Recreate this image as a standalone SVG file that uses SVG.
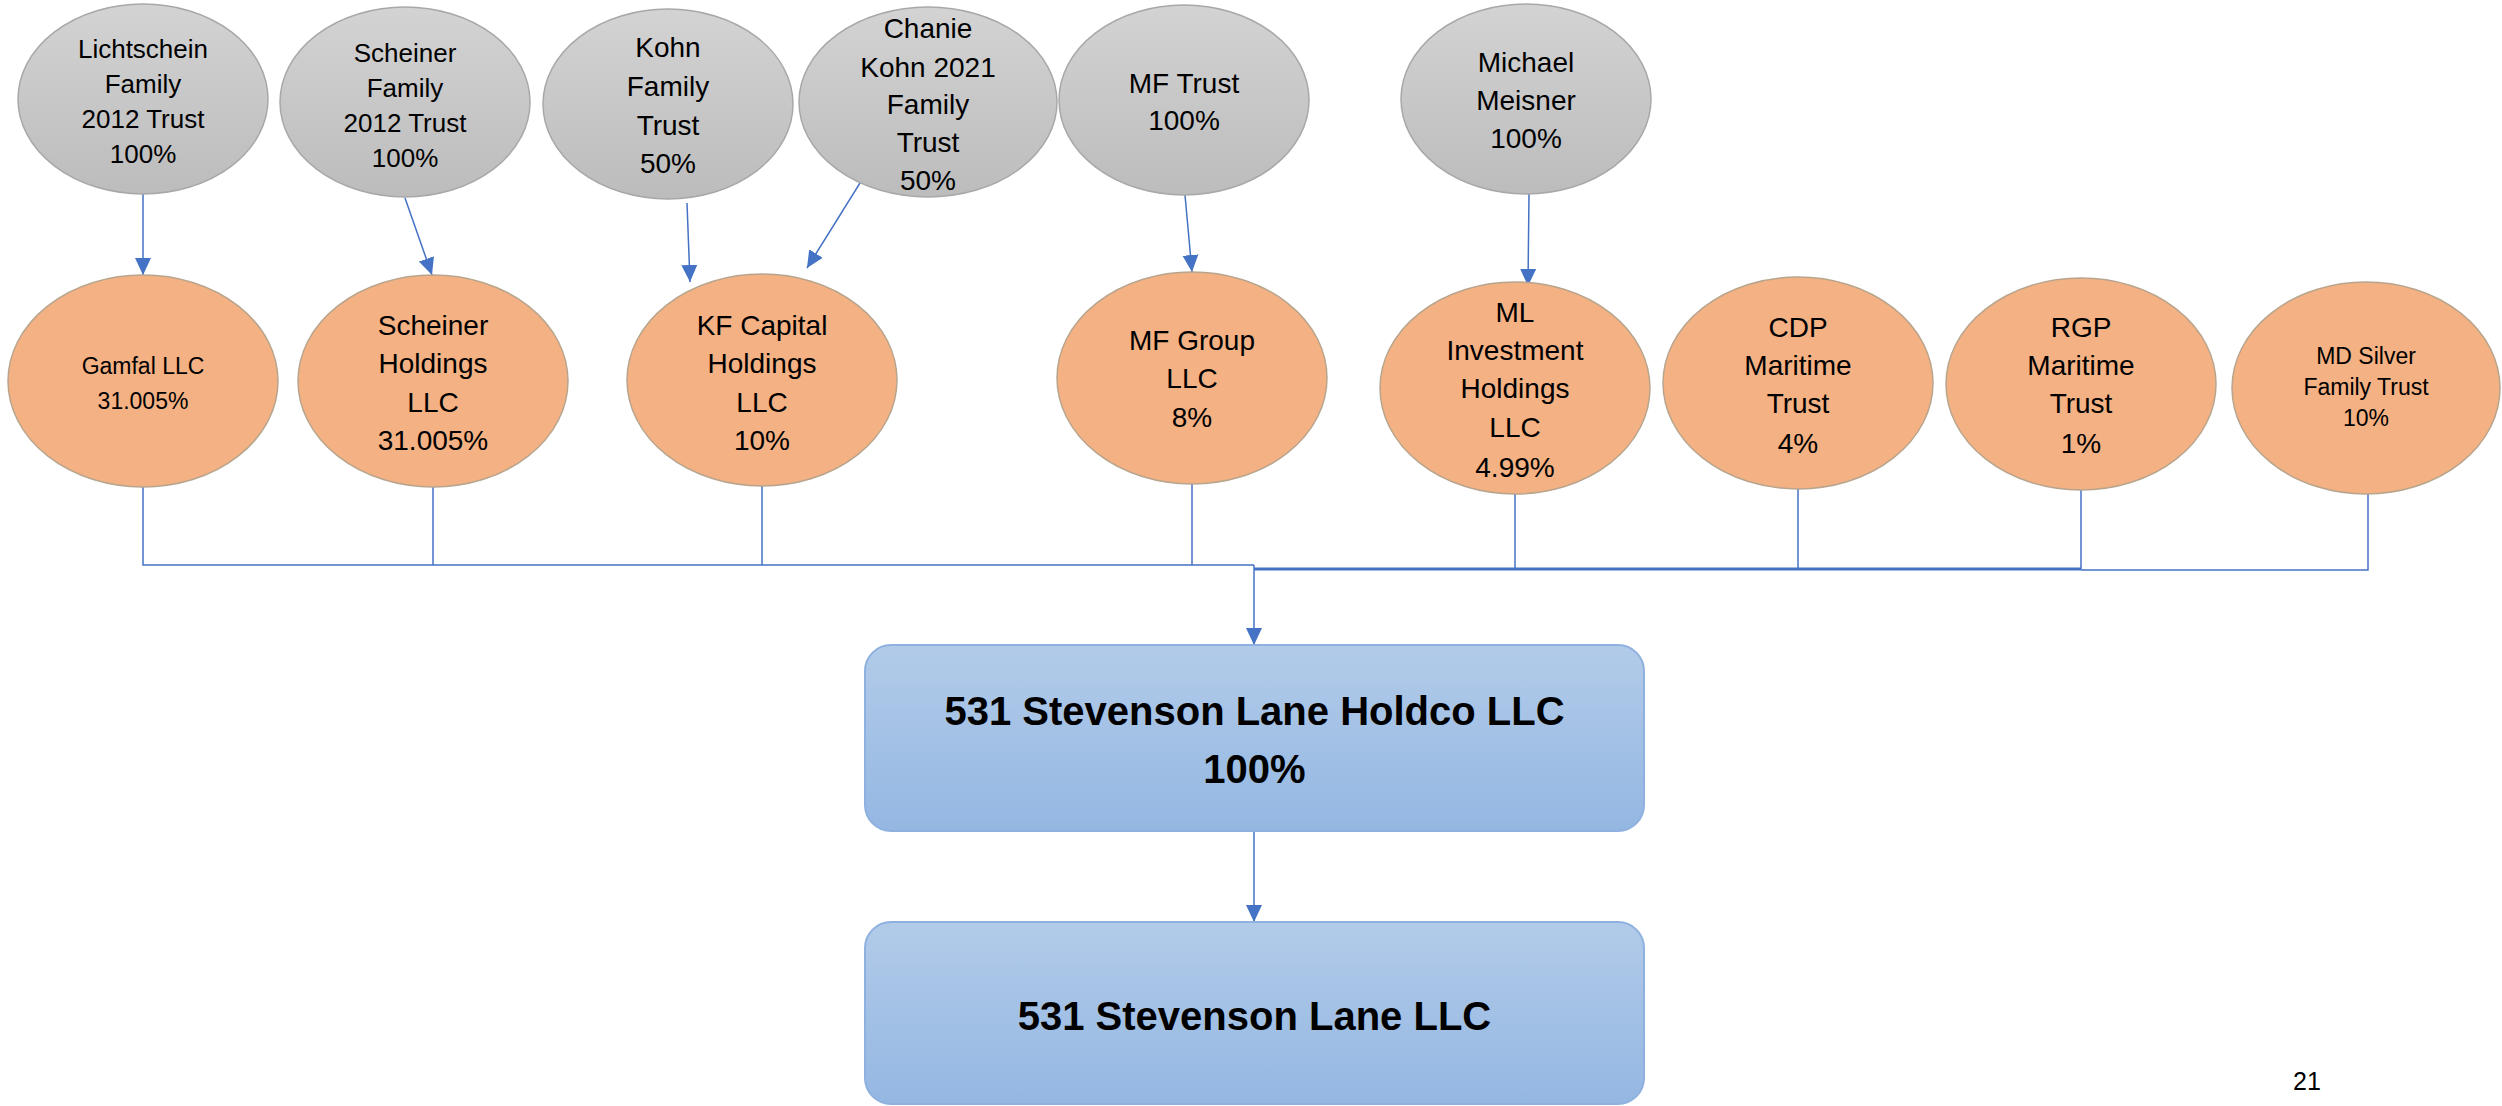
<svg xmlns="http://www.w3.org/2000/svg" width="2502" height="1106" viewBox="0 0 2502 1106">
  <defs>
    <linearGradient id="gGray" x1="0" y1="0" x2="0" y2="1">
      <stop offset="0" stop-color="#d3d3d3"/>
      <stop offset="1" stop-color="#bcbcbc"/>
    </linearGradient>
    <linearGradient id="gBlue" x1="0" y1="0" x2="0" y2="1">
      <stop offset="0" stop-color="#b2cbe9"/>
      <stop offset="1" stop-color="#94b7e2"/>
    </linearGradient>
    <marker id="arr" markerUnits="userSpaceOnUse" markerWidth="18" markerHeight="18" viewBox="0 0 18 18" refX="17" refY="9" orient="auto">
      <path d="M0,1 L17,9 L0,17 Z" fill="#4472c4"/>
    </marker>
    <style>
      .gray { fill: url(#gGray); stroke: #a8a8a8; stroke-width: 1.5; }
      .orange { fill: #f4b183; stroke: #b8a58e; stroke-width: 1.5; }
      .box { fill: url(#gBlue); stroke: #8fb1df; stroke-width: 2; }
      .t { font-family: "Liberation Sans", Arial, sans-serif; fill: #000; text-anchor: middle; }
      .f26 { font-size: 26px; }
      .f28 { font-size: 28px; }
      .f23 { font-size: 23px; }
      .big { font-size: 40px; font-weight: bold; }
      .ln { fill: none; stroke: #4472c4; stroke-width: 1.5; }
      .lnb { fill: none; stroke: #4472c4; stroke-width: 3; }
    </style>
  </defs>
  <rect width="2502" height="1106" fill="#ffffff"/>

  <g id="connectors">
    <line class="ln" x1="143" y1="194" x2="143" y2="275" marker-end="url(#arr)"/>
    <line class="ln" x1="405" y1="198" x2="432" y2="275" marker-end="url(#arr)"/>
    <line class="ln" x1="687" y1="203" x2="690" y2="282" marker-end="url(#arr)"/>
    <line class="ln" x1="870" y1="167" x2="807" y2="268" marker-end="url(#arr)"/>
    <line class="ln" x1="1185" y1="195" x2="1192" y2="272" marker-end="url(#arr)"/>
    <line class="ln" x1="1529" y1="194" x2="1528" y2="286" marker-end="url(#arr)"/>

    <polyline class="ln" points="143,487 143,565 1254,565"/>
    <line class="ln" x1="433" y1="487" x2="433" y2="565"/>
    <line class="ln" x1="762" y1="486" x2="762" y2="565"/>
    <line class="ln" x1="1192" y1="484" x2="1192" y2="565"/>
    <line class="ln" x1="1254" y1="565" x2="1254" y2="645" marker-end="url(#arr)"/>

    <line class="lnb" x1="1254" y1="569" x2="2081" y2="569"/>
    <line class="ln" x1="1515" y1="494" x2="1515" y2="569"/>
    <line class="ln" x1="1798" y1="489" x2="1798" y2="569"/>
    <line class="ln" x1="2081" y1="490" x2="2081" y2="569"/>
    <polyline class="ln" points="2368,494 2368,570 2081,570"/>

    <line class="ln" x1="1254" y1="831" x2="1254" y2="922" marker-end="url(#arr)"/>
  </g>

  <g id="n-lichtschein">
    <ellipse class="gray" cx="143" cy="99" rx="125" ry="95"/>
    <text class="t f26" x="143" y="58">Lichtschein</text>
    <text class="t f26" x="143" y="93">Family</text>
    <text class="t f26" x="143" y="128">2012 Trust</text>
    <text class="t f26" x="143" y="163">100%</text>
  </g>
  <g id="n-scheiner-family">
    <ellipse class="gray" cx="405" cy="102" rx="125" ry="95"/>
    <text class="t f26" x="405" y="62">Scheiner</text>
    <text class="t f26" x="405" y="97">Family</text>
    <text class="t f26" x="405" y="132">2012 Trust</text>
    <text class="t f26" x="405" y="167">100%</text>
  </g>
  <g id="n-kohn-family">
    <ellipse class="gray" cx="668" cy="104" rx="125" ry="95"/>
    <text class="t f28" x="668" y="57">Kohn</text>
    <text class="t f28" x="668" y="96">Family</text>
    <text class="t f28" x="668" y="135">Trust</text>
    <text class="t f28" x="668" y="173">50%</text>
  </g>
  <g id="n-chanie">
    <ellipse class="gray" cx="928" cy="102" rx="129" ry="95"/>
    <text class="t f28" x="928" y="38">Chanie</text>
    <text class="t f28" x="928" y="77">Kohn 2021</text>
    <text class="t f28" x="928" y="114">Family</text>
    <text class="t f28" x="928" y="152">Trust</text>
    <text class="t f28" x="928" y="190">50%</text>
  </g>
  <g id="n-mf-trust">
    <ellipse class="gray" cx="1184" cy="100" rx="125" ry="95"/>
    <text class="t f28" x="1184" y="93">MF Trust</text>
    <text class="t f28" x="1184" y="130">100%</text>
  </g>
  <g id="n-michael">
    <ellipse class="gray" cx="1526" cy="99" rx="125" ry="95"/>
    <text class="t f28" x="1526" y="72">Michael</text>
    <text class="t f28" x="1526" y="110">Meisner</text>
    <text class="t f28" x="1526" y="148">100%</text>
  </g>

  <g id="n-gamfal">
    <ellipse class="orange" cx="143" cy="381" rx="135" ry="106"/>
    <text class="t f23" x="143" y="374">Gamfal LLC</text>
    <text class="t f23" x="143" y="409">31.005%</text>
  </g>
  <g id="n-scheiner-holdings">
    <ellipse class="orange" cx="433" cy="381" rx="135" ry="106"/>
    <text class="t f28" x="433" y="335">Scheiner</text>
    <text class="t f28" x="433" y="373">Holdings</text>
    <text class="t f28" x="433" y="412">LLC</text>
    <text class="t f28" x="433" y="450">31.005%</text>
  </g>
  <g id="n-kf-capital">
    <ellipse class="orange" cx="762" cy="380" rx="135" ry="106"/>
    <text class="t f28" x="762" y="335">KF Capital</text>
    <text class="t f28" x="762" y="373">Holdings</text>
    <text class="t f28" x="762" y="412">LLC</text>
    <text class="t f28" x="762" y="450">10%</text>
  </g>
  <g id="n-mf-group">
    <ellipse class="orange" cx="1192" cy="378" rx="135" ry="106"/>
    <text class="t f28" x="1192" y="350">MF Group</text>
    <text class="t f28" x="1192" y="388">LLC</text>
    <text class="t f28" x="1192" y="427">8%</text>
  </g>
  <g id="n-ml-investment">
    <ellipse class="orange" cx="1515" cy="388" rx="135" ry="106"/>
    <text class="t f28" x="1515" y="322">ML</text>
    <text class="t f28" x="1515" y="360">Investment</text>
    <text class="t f28" x="1515" y="398">Holdings</text>
    <text class="t f28" x="1515" y="437">LLC</text>
    <text class="t f28" x="1515" y="477">4.99%</text>
  </g>
  <g id="n-cdp">
    <ellipse class="orange" cx="1798" cy="383" rx="135" ry="106"/>
    <text class="t f28" x="1798" y="337">CDP</text>
    <text class="t f28" x="1798" y="375">Maritime</text>
    <text class="t f28" x="1798" y="413">Trust</text>
    <text class="t f28" x="1798" y="453">4%</text>
  </g>
  <g id="n-rgp">
    <ellipse class="orange" cx="2081" cy="384" rx="135" ry="106"/>
    <text class="t f28" x="2081" y="337">RGP</text>
    <text class="t f28" x="2081" y="375">Maritime</text>
    <text class="t f28" x="2081" y="413">Trust</text>
    <text class="t f28" x="2081" y="453">1%</text>
  </g>
  <g id="n-md-silver">
    <ellipse class="orange" cx="2366" cy="388" rx="134" ry="106"/>
    <text class="t f23" x="2366" y="364">MD Silver</text>
    <text class="t f23" x="2366" y="395">Family Trust</text>
    <text class="t f23" x="2366" y="426">10%</text>
  </g>

  <g id="n-holdco">
    <rect class="box" x="865" y="645" width="779" height="186" rx="26" ry="26"/>
    <text class="t big" x="1254.5" y="725">531 Stevenson Lane Holdco LLC</text>
    <text class="t big" x="1254.5" y="783">100%</text>
  </g>
  <g id="n-llc">
    <rect class="box" x="865" y="922" width="779" height="182" rx="26" ry="26"/>
    <text class="t big" x="1254.5" y="1030">531 Stevenson Lane LLC</text>
  </g>

  <text class="t" x="2307" y="1090" font-size="25">21</text>
</svg>
